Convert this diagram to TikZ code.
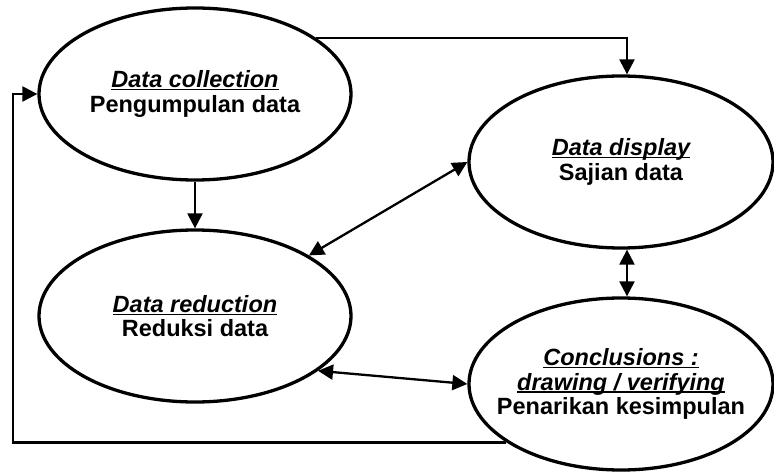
\documentclass[tikz,border=0pt]{standalone}
\usepackage{fontspec}
\setmainfont{Liberation Sans}
\usetikzlibrary{arrows.meta,shapes.geometric,calc}
\newsavebox{\myulbox}
\newcommand\myul[1]{\sbox{\myulbox}{#1}\rlap{\rule[-2.6pt]{\wd\myulbox}{1.2pt}}\usebox{\myulbox}}
\begin{document}
\begin{tikzpicture}[x=1pt,y=-1pt,
  stage/.style={ellipse, draw, line width=3.3pt, minimum width=312pt, minimum height=172pt,
    inner xsep=-50pt, inner ysep=-20pt, align=center, font=\fontsize{23.5}{24.5}\selectfont\bfseries},
  conn/.style={line width=2.3pt, -{Triangle[length=15pt,width=15pt]}},
  dconn/.style={line width=2.3pt, {Triangle[length=15pt,width=15pt]}-{Triangle[length=15pt,width=15pt]}}]
\useasboundingbox (0,0) rectangle (774,473);
\node[stage] (e1) at (195,94) {\myul{\itshape Data collection}\\Pengumpulan data};
\node[stage,minimum width=304pt] (e2) at (621,162) {\myul{\itshape Data display}\\Sajian data};
\node[stage] (e3) at (195,316) {\myul{\itshape Data reduction}\\Reduksi data};
\node[stage,minimum width=304pt] (e4) at (621,384) {\myul{\itshape Conclusions :}\\\myul{\itshape drawing / verifying}\\Penarikan kesimpulan};
\coordinate (fl) at (13,443);
\draw[conn] (e1.south) -- (e3.north);
\draw[conn] (e1.25) -| ($(e2.north)+(6,0)$);
\draw[dconn] (e3.28) -- (e2.west);
\draw[dconn] ($(e2.south)+(6,0)$) -- ($(e4.north)+(6,0)$);
\draw[dconn] (e3.-24) -- (e4.west);
\draw[conn] (e4.207) -- (e4.207 -| fl) |- (e1.west);
\end{tikzpicture}
\end{document}
